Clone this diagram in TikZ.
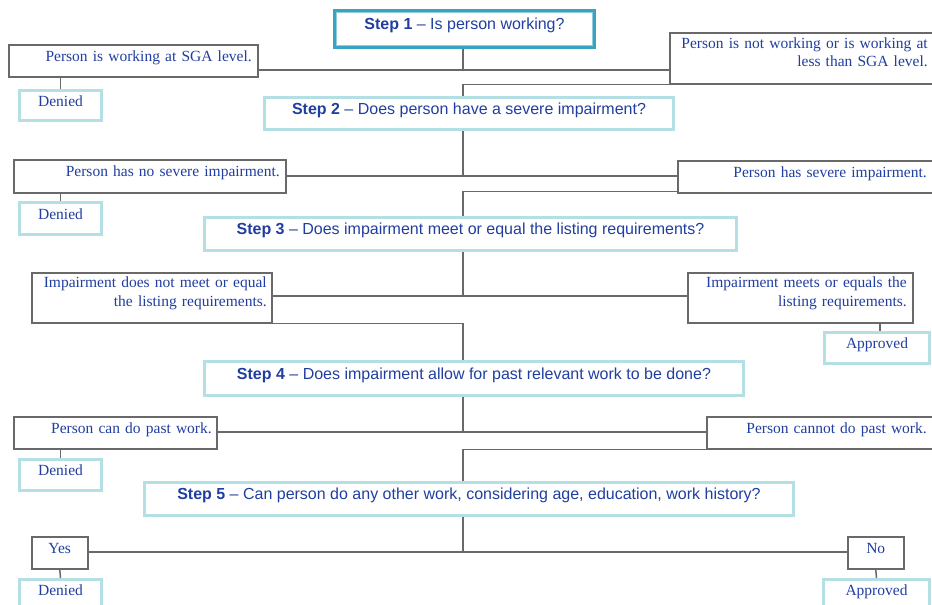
\documentclass[tikz,border=0pt]{standalone}
\usepackage{fontspec}
\setmainfont{Liberation Serif}
\setsansfont{Liberation Sans}
\usetikzlibrary{positioning}

\definecolor{textblue}{RGB}{32,62,160}
\definecolor{paleteal}{RGB}{180,223,228}
\definecolor{darkteal}{RGB}{58,164,192}
\definecolor{linegray}{RGB}{105,105,105}

\begin{document}
\begin{tikzpicture}[
% Change style
	x=1pt, y=-1pt,
	every node/.style={text=textblue, inner sep=0pt, anchor=north west,
		text height=11pt, text depth=10pt},
	question/.style={draw=paleteal, line width=3pt,
		font=\sffamily\fontsize{16}{19}\selectfont},
	answer/.style={draw=linegray, line width=1.5pt, align=right,
		inner xsep=6pt, minimum height=32pt, font=\fontsize{15.5}{18.5}\selectfont},
	twolines/.style={text depth=31pt, minimum height=50pt},
	result/.style={draw=paleteal, line width=3pt,
		font=\fontsize{15.5}{18.5}\selectfont},
	link/.style={draw=linegray, line width=1.5pt}]

\useasboundingbox (0,0) rectangle (932,605);

% Step 1
\node[question, draw=darkteal, minimum width=260pt, minimum height=37pt]
	(step1) at (333,9) {\textbf{Step 1} -- Is person working?};
\draw[darkteal!55, line width=1pt]
	([shift={(3.5pt,-3.5pt)}]step1.north west) rectangle
	([shift={(-3.5pt,3.5pt)}]step1.south east);

\node[answer, text width=237pt] (work) at (8,44)
	{Person is working at SGA level.};
\node[result, minimum width=82pt, minimum height=30pt] (denied1) at (18,89) {Denied};
\node[answer, twolines, minimum height=51pt, text width=252pt] (nowork) at (669,32)
	{Person is not working or is working at\\ less than SGA level.};

% Step 2
\node[question, minimum width=409pt, minimum height=32pt]
	(step2) at (263,96) {\textbf{Step 2} -- Does person have a severe impairment?};

\node[answer, minimum height=33pt, text width=260pt] (nosevere) at (13,159)
	{Person has no severe impairment.};
\node[result, minimum width=82pt, minimum height=32pt] (denied2) at (18,201) {Denied};
\node[answer, text width=243pt] (severe) at (677,160)
	{Person has severe impairment.};

% Step 3
\node[question, minimum width=532pt, minimum height=33pt]
	(step3) at (203,216) {\textbf{Step 3} -- Does impairment meet or equal the listing requirements?};

\node[answer, twolines, text width=230pt, inner xsep=5pt] (nomeet) at (31,272)
	{Impairment does not meet or equal\\ the listing requirements.};
\node[answer, twolines, text width=213pt] (meet) at (687,272)
	{Impairment meets or equals the\\ listing requirements.};
\node[result, minimum width=105pt, minimum height=31pt] (approved3) at (823,331) {Approved};

% Step 4
\node[question, minimum width=539pt, minimum height=34pt]
	(step4) at (203,360) {\textbf{Step 4} -- Does impairment allow for past relevant work to be done?};

\node[answer, text width=193pt, inner xsep=5pt] (pastwork) at (13,416)
	{Person can do past work.};
\node[result, minimum width=82pt, minimum height=31pt] (denied4) at (18,458) {Denied};
\node[answer, text width=214pt] (nopastwork) at (706,416)
	{Person cannot do past work.};

% Step 5
\node[question, minimum width=649pt, minimum height=33pt]
	(step5) at (143,481) {\textbf{Step 5} -- Can person do any other work, considering age, education, work history?};

\node[answer, align=center, text width=44pt] (yes) at (31,536) {Yes};
\node[result, minimum width=82pt, minimum height=30pt] (denied5) at (18,578) {Denied};
\node[answer, align=center, text width=44pt] (no) at (847,536) {No};
\node[result, minimum width=106pt, minimum height=30pt] (approved5) at (822,578) {Approved};

% Junctions on the trunk
\coordinate (j1) at (463,70);
\coordinate (j2) at (463,176);
\coordinate (j3) at (463,296);
\coordinate (j4) at (463,432);
\coordinate (j5) at (463,552);

% Connections
\draw[link] (step1.south -| j1) -- (j1);
\draw[link] (work.east |- j1) -- (nowork.west |- j1);
\draw[link] (work.south -| denied1.north) -- (denied1.north);
\draw[link] (nowork.south west) -| (step2.north -| j1);

\draw[link] (step2.south -| j2) -- (j2);
\draw[link] (nosevere.east |- j2) -- (severe.west |- j2);
\draw[link] (nosevere.south -| denied2.north) -- (denied2.north);
\draw[link] ([yshift=2pt]severe.south west) -| (step3.north -| j2);

\draw[link] (step3.south -| j3) -- (j3);
\draw[link] (nomeet.east |- j3) -- (meet.west |- j3);
\draw[link] (nomeet.south east) -| (step4.north -| j3);
\draw[link] ([xshift=3pt]meet.south -| approved3.north) -- ([xshift=3pt]approved3.north);

\draw[link] (step4.south -| j4) -- (j4);
\draw[link] (pastwork.east |- j4) -- (nopastwork.west |- j4);
\draw[link] (pastwork.south -| denied4.north) -- (denied4.north);
\draw[link] (nopastwork.south west) -| (step5.north -| j4);

\draw[link] (step5.south -| j5) -- (j5);
\draw[link] (yes.east |- j5) -- (no.west |- j5);
\draw[link] (yes.south) -- (denied5.north);
\draw[link] (no.south) -- (approved5.north);

\end{tikzpicture}
\end{document}
